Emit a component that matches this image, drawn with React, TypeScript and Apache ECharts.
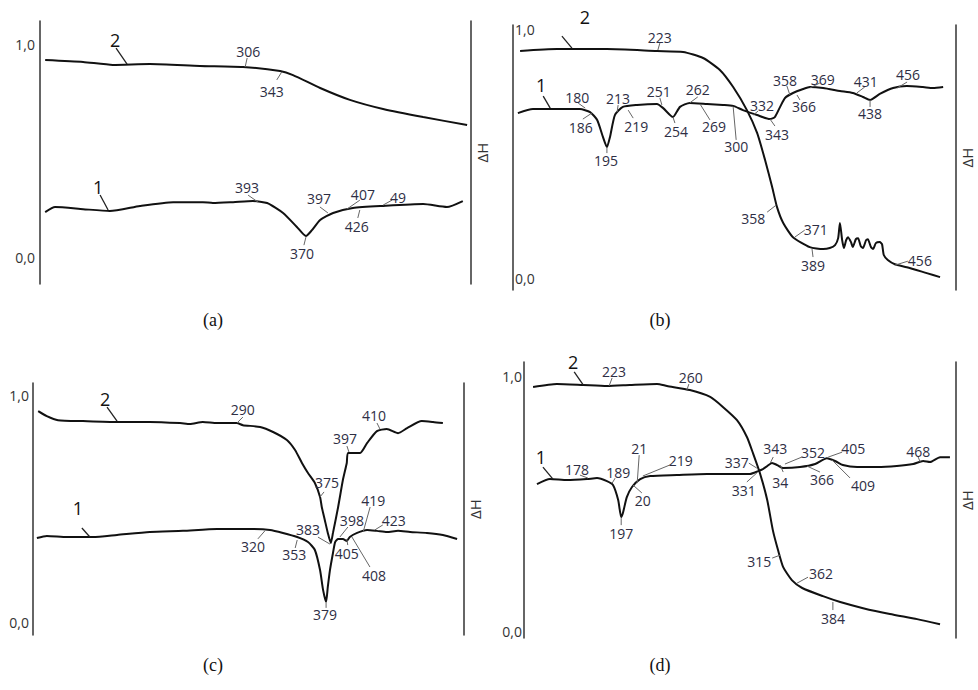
import React, { useEffect, useRef } from 'react';
import * as echarts from 'echarts';

type Pt = [number, number];
type Note = [string, number, number];

const yTickValues = [0, 1];
const yTickLabels = ['0,0', '1,0'];
const axisName = 'ΔH';
const captions = ['(a)', '(b)', '(c)', '(d)'];

// ---- panel (a)
const a1: Pt[] = [[1.2,0.212],[3.5,0.236],[10.0,0.226],[16.2,0.217],[23.2,0.241],[30.9,0.259],[37.8,0.259],[40.1,0.255],[44.8,0.259],[49.4,0.264],[52.7,0.255],[56.4,0.208],[59.6,0.142],[61.7,0.099],[63.1,0.127],[65.0,0.175],[68.0,0.208],[72.6,0.231],[79.6,0.241],[88.9,0.250],[94.4,0.236],[98.1,0.264]];
const a2: Pt[] = [[1.2,0.929],[10.0,0.920],[16.9,0.906],[25.5,0.910],[37.1,0.901],[47.1,0.896],[55.7,0.877],[58.7,0.858],[65.0,0.797],[71.9,0.741],[79.6,0.698],[88.9,0.660],[99.1,0.623]];
const aNotes: Note[] = [['2',20.2,0.910],['306',47.6,0.896],['343',56.1,0.873],['1',15.8,0.222],['393',50.6,0.259],['397',66.8,0.208],['407',71.2,0.226],['49',79.6,0.245],['426',74.2,0.222],['370',61.7,0.094]];

// ---- panel (b)
const b1: Pt[] = [[1.1,0.665],[4.5,0.681],[9.9,0.681],[15.1,0.681],[17.4,0.669],[19.0,0.637],[20.3,0.569],[21.2,0.528],[21.9,0.569],[23.0,0.657],[24.8,0.690],[28.0,0.698],[32.5,0.702],[33.9,0.685],[36.1,0.649],[37.7,0.690],[39.9,0.706],[43.8,0.702],[47.4,0.698],[49.7,0.694],[51.9,0.677],[55.1,0.657],[58.0,0.641],[59.1,0.649],[60.3,0.690],[61.4,0.726],[63.2,0.746],[65.5,0.762],[67.0,0.770],[70.0,0.766],[73.8,0.754],[76.7,0.746],[79.0,0.730],[80.6,0.718],[82.8,0.742],[85.8,0.766],[88.9,0.774],[92.5,0.770],[94.8,0.766],[97.1,0.770]];
const b2: Pt[] = [[1.6,0.915],[9.9,0.923],[21.2,0.923],[32.5,0.915],[38.4,0.911],[42.9,0.887],[46.7,0.839],[49.7,0.770],[52.8,0.677],[55.1,0.585],[56.9,0.476],[58.5,0.367],[59.6,0.286],[61.0,0.222],[63.2,0.165],[67.0,0.125],[70.0,0.117],[71.5,0.121],[72.7,0.133],[73.4,0.161],[73.8,0.222],[74.3,0.153],[74.7,0.121],[75.2,0.153],[75.6,0.165],[76.3,0.145],[76.7,0.125],[77.4,0.157],[77.9,0.161],[78.5,0.129],[79.0,0.121],[79.7,0.153],[80.1,0.157],[80.8,0.125],[81.3,0.117],[81.9,0.141],[82.8,0.145],[83.3,0.137],[83.7,0.093],[84.6,0.073],[86.2,0.056],[88.9,0.044],[93.4,0.020],[96.4,0.004]];
const bNotes: Note[] = [['2',13.3,0.927],['223',32.7,0.919],['1',8.4,0.685],['180',16.3,0.685],['186',17.8,0.665],['195',21.2,0.528],['213',23.5,0.669],['219',26.0,0.677],['251',33.6,0.698],['254',36.1,0.649],['262',39.9,0.706],['269',42.2,0.702],['300',49.7,0.690],['332',54.2,0.657],['343',58.0,0.641],['358',62.5,0.738],['366',64.1,0.738],['369',67.0,0.766],['431',77.6,0.746],['438',80.6,0.718],['456',86.7,0.766],['358',59.4,0.294],['371',63.6,0.165],['389',67.5,0.117],['456',86.2,0.052]];

// ---- panel (c)
const c1: Pt[] = [[0.9,0.373],[3.2,0.382],[7.9,0.377],[13.9,0.377],[19.5,0.386],[27.1,0.399],[34.8,0.404],[42.7,0.412],[50.3,0.412],[55.0,0.408],[58.0,0.395],[61.3,0.377],[63.8,0.355],[65.4,0.320],[66.6,0.232],[67.3,0.145],[68.0,0.092],[68.4,0.158],[68.9,0.232],[69.6,0.307],[70.1,0.355],[70.8,0.368],[71.9,0.368],[72.8,0.360],[73.5,0.377],[75.2,0.395],[77.5,0.408],[79.8,0.404],[82.1,0.399],[84.7,0.404],[87.5,0.399],[91.4,0.395],[95.1,0.386],[98.4,0.368]];
const c2: Pt[] = [[1.2,0.930],[3.2,0.908],[5.8,0.890],[11.6,0.886],[19.5,0.882],[27.1,0.882],[34.1,0.877],[36.4,0.873],[39.4,0.882],[42.7,0.877],[47.3,0.877],[48.7,0.868],[52.7,0.860],[55.7,0.838],[58.9,0.803],[60.8,0.759],[62.4,0.702],[63.8,0.658],[65.4,0.614],[66.6,0.553],[67.0,0.509],[67.7,0.452],[68.4,0.395],[69.1,0.351],[69.6,0.395],[70.8,0.509],[71.9,0.627],[72.8,0.702],[73.1,0.746],[75.9,0.746],[77.5,0.789],[79.8,0.842],[82.1,0.851],[84.7,0.833],[86.8,0.855],[90.2,0.886],[92.8,0.882],[95.1,0.877]];
const cNotes: Note[] = [['2',19.5,0.886],['290',47.3,0.877],['410',80.5,0.851],['397',73.3,0.750],['375',66.6,0.553],['1',13.2,0.377],['320',53.8,0.404],['353',61.3,0.364],['383',68.9,0.346],['398',71.2,0.377],['419',76.6,0.399],['423',79.3,0.408],['405',72.8,0.368],['408',74.0,0.377],['379',68.0,0.088]];

// ---- panel (d)
const d1: Pt[] = [[3.0,0.576],[6.0,0.596],[10.0,0.592],[14.6,0.596],[16.9,0.600],[19.2,0.588],[20.6,0.573],[21.8,0.514],[22.5,0.447],[22.9,0.463],[23.8,0.525],[25.0,0.565],[26.9,0.596],[29.2,0.608],[35.4,0.612],[42.4,0.616],[47.7,0.616],[52.3,0.616],[54.2,0.627],[55.3,0.635],[56.3,0.647],[57.4,0.659],[58.6,0.651],[60.0,0.639],[63.9,0.643],[67.4,0.655],[70.1,0.678],[72.0,0.667],[73.8,0.651],[77.1,0.643],[81.7,0.643],[86.3,0.647],[90.1,0.655],[92.4,0.667],[94.0,0.663],[96.3,0.682],[98.6,0.682]];
const d2: Pt[] = [[2.1,0.957],[7.6,0.969],[13.7,0.965],[19.2,0.961],[24.5,0.965],[30.8,0.969],[33.1,0.961],[38.4,0.945],[43.1,0.918],[46.1,0.878],[49.3,0.827],[51.6,0.761],[53.0,0.698],[54.6,0.620],[56.3,0.514],[57.6,0.396],[58.8,0.318],[60.0,0.251],[62.0,0.200],[64.4,0.169],[69.2,0.137],[73.2,0.114],[78.5,0.090],[84.7,0.067],[91.0,0.047],[96.3,0.027]];
const dNotes: Note[] = [['2',13.7,0.965],['223',19.7,0.961],['260',37.7,0.945],['1',6.7,0.596],['178',14.8,0.600],['189',20.4,0.580],['21',26.2,0.580],['20',25.2,0.573],['219',27.5,0.608],['197',22.5,0.443],['337',53.9,0.639],['331',53.9,0.620],['343',57.0,0.659],['34',59.3,0.651],['352',60.4,0.655],['366',65.5,0.647],['405',70.4,0.682],['409',71.3,0.671],['468',91.7,0.663],['315',59.3,0.298],['362',63.2,0.188],['384',71.5,0.114]];

// ---- layout (pixel offsets of leader end and label centre relative to the anchor point)
const aOffs = [[-11,-16,-12,-24],[2,-9,3,-16],[-5,8,-10,20],[-8,-15,-10,-23],[-10,-7,-11,-15],[-8,-6,-9,-14],[13,-9,16,-15],[9,-5,15,-8],[-2,8,-3,17],[-2,8,-4,16]];
const bOffs = [[-10,-12,13,-31],[2,-7,2,-13],[-7,-12,-9,-23],[-7,-5,-8,-11],[-9,6,-11,14],[0,6,-1,13],[1,-7,1,-14],[5,8,8,16],[-2,-7,-3,-13],[2,6,3,14],[8,-6,8,-13],[10,16,14,23],[3,33,3,40],[5,-4,9,-10],[5,7,7,15],[-3,-9,-5,-14],[3,5,7,12],[10,-5,13,-9],[8,-6,9,-11],[0,7,0,14],[10,-6,11,-14],[-9,7,-23,13],[10,-7,21,-8],[1,8,1,16],[13,-4,25,-5]];
const cOffs = [[-10,-14,-12,-22],[6,-6,6,-14],[-3,-6,-6,-14],[-2,-6,-4,-14],[4,-5,7,-14],[-8,-9,-12,-29],[-7,8,-12,16],[-2,8,-3,15],[-12,-7,-22,-15],[8,-10,12,-17],[7,-25,10,-32],[8,-5,19,-9],[1,6,0,14],[18,30,22,38],[0,5,-1,12]];
const dOffs = [[-9,-13,-10,-23],[3,-8,5,-14],[2,-6,4,-13],[-10,-12,-12,-22],[-8,-3,-11,-9],[3,-5,6,-11],[2,-28,2,-35],[9,8,10,16],[27,-11,38,-16],[0,7,0,15],[-8,-5,-20,-6],[-10,9,-13,18],[3,-6,5,-15],[3,7,0,17],[17,-7,28,-12],[13,6,15,13],[14,-5,25,-9],[18,18,31,26],[-2,-5,-2,-10],[-8,3,-21,6],[11,-6,24,-10],[0,8,0,16]];

const grids = [
  { left: 40, top: 21, width: 431, height: 263 },
  { left: 513, top: 25, width: 443, height: 265 },
  { left: 33, top: 383, width: 431, height: 252 },
  { left: 524, top: 362, width: 432, height: 276 },
];
const yRanges = [[-0.127, 1.113], [-0.048, 1.02], [-0.053, 1.053], [-0.027, 1.055]];
const labelMargins = [5, 2, 4, 2];
const captionPos = [[213, 320], [660, 320], [213, 665], [660, 665]];

const panels = [
  { c1: a1, c2: a2, notes: aNotes, offs: aOffs },
  { c1: b1, c2: b2, notes: bNotes, offs: bOffs },
  { c1: c1, c2: c2, notes: cNotes, offs: cOffs },
  { c1: d1, c2: d2, notes: dNotes, offs: dOffs },
];

const FONT = '"Open Sans", "Noto Sans", sans-serif';

function buildOption() {
  const xAxis: any[] = [];
  const yAxis: any[] = [];
  const series: any[] = [];
  panels.forEach((p, i) => {
    xAxis.push({ type: 'value', gridIndex: i, min: 0, max: 100, show: false });
    yAxis.push({
      type: 'value', gridIndex: i, min: yRanges[i][0], max: yRanges[i][1], position: 'left',
      axisLine: { show: true, onZero: false, lineStyle: { color: '#333', width: 1.5 } },
      axisTick: { show: false }, splitLine: { show: false },
      axisLabel: {
        show: true, customValues: yTickValues, inside: i === 1, margin: labelMargins[i],
        formatter: (v: number) => yTickLabels[yTickValues.indexOf(v)] ?? '',
        color: '#333', fontSize: 14, fontFamily: FONT,
      },
    });
    yAxis.push({
      type: 'value', gridIndex: i, min: yRanges[i][0], max: yRanges[i][1], position: 'right',
      axisLine: { show: true, onZero: false, lineStyle: { color: '#333', width: 1.5 } },
      axisTick: { show: false }, splitLine: { show: false }, axisLabel: { show: false },
      name: axisName, nameLocation: 'middle', nameGap: 3, nameRotate: 90,
      nameTextStyle: { fontSize: 15, color: '#333', fontFamily: FONT },
    });
    [p.c1, p.c2].forEach((d) => {
      series.push({
        type: 'line', xAxisIndex: i, yAxisIndex: i * 2, data: d, smooth: 0.2,
        showSymbol: false, symbol: 'none', silent: true,
        lineStyle: { color: '#111', width: 2 },
      });
    });
    const notes = p.notes;
    const offs = p.offs;
    series.push({
      type: 'custom', coordinateSystem: 'cartesian2d', xAxisIndex: i, yAxisIndex: i * 2,
      silent: true, z: 5, clip: false,
      data: notes.map((n) => [n[1], n[2]]),
      renderItem: (params: any, api: any) => {
        const k = params.dataIndex;
        const pt = api.coord([api.value(0), api.value(1)]);
        const o = offs[k];
        const txt = notes[k][0];
        const big = txt === '1' || txt === '2';
        return {
          type: 'group',
          children: [
            { type: 'line', shape: { x1: pt[0], y1: pt[1], x2: pt[0] + o[0], y2: pt[1] + o[1] },
              style: { stroke: big ? '#222' : '#666', lineWidth: big ? 1.3 : 1 } },
            { type: 'text', x: pt[0] + o[2], y: pt[1] + o[3],
              style: { text: txt, fill: big ? '#111' : '#2e2e44', font: (big ? '18px ' : '14px ') + FONT,
                align: 'center', verticalAlign: 'middle' } },
          ],
        };
      },
    });
  });
  return {
    animation: false,
    backgroundColor: '#fff',
    grid: grids.map((g) => ({ ...g, containLabel: false })),
    xAxis, yAxis, series,
    graphic: captions.map((c, i) => ({
      type: 'text', x: captionPos[i][0], y: captionPos[i][1],
      style: { text: c, font: '18px "Liberation Serif", "Times New Roman", serif', fill: '#111', align: 'center', verticalAlign: 'middle' },
    })),
  };
}

export default function App() {
  const ref = useRef<HTMLDivElement>(null);
  useEffect(() => {
    if (!ref.current) return;
    const chart = echarts.init(ref.current, undefined, { renderer: 'svg' });
    chart.setOption(buildOption() as any);
    return () => chart.dispose();
  }, []);
  return <div ref={ref} style={{ position: 'fixed', left: 0, top: 0, width: 978, height: 690, background: '#fff' }} />;
}
